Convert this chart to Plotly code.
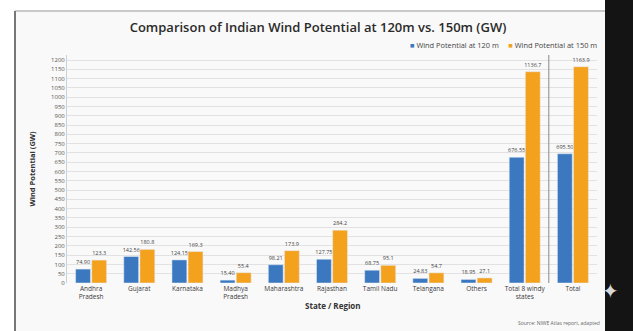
import plotly.graph_objects as go

# Wind potential by state / region (GW)
categories = [
    "Andhra<br>Pradesh", "Gujarat", "Karnataka", "Madhya<br>Pradesh",
    "Maharashtra", "Rajasthan", "Tamil Nadu", "Telangana", "Others",
    "Total 8 windy<br>states", "Total",
]
potential_120m = [74.90, 142.56, 124.15, 15.40, 98.21, 127.75, 68.75, 24.83, 18.95, 676.55, 695.50]
potential_150m = [123.3, 180.8, 169.3, 55.4, 173.9, 284.2, 95.1, 54.7, 27.1, 1136.7, 1163.9]
series_names = ["Wind Potential at 120 m", "Wind Potential at 150 m"]
y_ticks = list(range(0, 1201, 50))

W, H = 633, 331
ML, MR, MT, MB = 67, 36, 55, 48
PW, PH = W - ML - MR, H - MT - MB


def px_x(x):
    return (x - ML) / PW


def px_y(y):
    return (H - MB - y) / PH


BLUE = "#3b78c0"
ORANGE = "#f4a11d"
FONT = "Open Sans"

fig = go.Figure()
for name, values, color, fmt in [
    (series_names[0], potential_120m, BLUE, "%{y:.2f}"),
    (series_names[1], potential_150m, ORANGE, "%{y:.1f}"),
]:
    fig.add_trace(go.Bar(
        name=name, x=categories, y=values, marker_color=color,
        texttemplate=fmt, textposition="outside",
        constraintext="none", cliponaxis=False, showlegend=False,
        textfont=dict(size=5.5, color="#444", family=FONT),
    ))

shapes = [
    # slide frame background
    dict(type="rect", xref="paper", yref="paper", layer="below",
         x0=px_x(15), x1=px_x(605), y0=px_y(335), y1=px_y(11),
         fillcolor="#f9f9f9", line=dict(width=0)),
    # frame edges
    dict(type="line", xref="paper", yref="paper",
         x0=px_x(15), x1=px_x(605), y0=px_y(11), y1=px_y(11),
         line=dict(color="#b8b8b8", width=1.5)),
    dict(type="line", xref="paper", yref="paper",
         x0=px_x(15), x1=px_x(15), y0=px_y(335), y1=px_y(11),
         line=dict(color="#777", width=2)),
    # dark strip on the right
    dict(type="rect", xref="paper", yref="paper",
         x0=px_x(605), x1=px_x(640), y0=px_y(340), y1=px_y(0),
         fillcolor="#141414", line=dict(width=0)),
    # separator before the overall total
    dict(type="line", xref="x", yref="paper",
         x0=9.5, x1=9.5, y0=0, y1=1,
         line=dict(color="#888", width=1)),
]

legend_text = (
    f"<span style='color:{BLUE}'>■</span> {series_names[0]}"
    f"     <span style='color:{ORANGE}'>■</span> {series_names[1]}"
)

annotations = [
    dict(text=legend_text, xref="paper", yref="paper",
         x=px_x(599), y=px_y(45.5), xanchor="right", yanchor="middle",
         showarrow=False, font=dict(size=7.4, color="#444", family=FONT)),
    dict(text="<b>State / Region</b>", xref="paper", yref="paper",
         x=px_x(333), y=px_y(313), showarrow=False,
         font=dict(size=8, color="#333", family=FONT)),
    dict(text="Source: NIWE Atlas report, adapted", xref="paper", yref="paper",
         x=px_x(602), y=px_y(328), xanchor="right", showarrow=False,
         font=dict(size=5, color="#666", family=FONT)),
    dict(text="✦", xref="paper", yref="paper",
         x=px_x(621), y=px_y(305), showarrow=False,
         font=dict(size=20, color="#d8d8d8", family="DejaVu Sans")),
]

fig.update_layout(
    width=W, height=H,
    margin=dict(l=ML, r=MR, t=MT, b=MB),
    paper_bgcolor="white", plot_bgcolor="rgba(0,0,0,0)",
    barmode="group", bargap=0.33, bargroupgap=0.08,
    font=dict(family=FONT, color="#444"),
    showlegend=False,
    title=dict(text="Comparison of Indian Wind Potential at 120m vs. 150m (GW)",
               x=318 / W, xanchor="center", y=1 - 27 / H, yanchor="middle",
               font=dict(size=13, color="#2a2a2a", family=FONT, weight=600)),
    shapes=shapes,
    annotations=annotations,
    xaxis=dict(tickfont=dict(size=6.5, color="#3a3a3a", family=FONT),
               showline=False, ticks="", tickangle=0),
    yaxis=dict(title=dict(text="<b>Wind Potential (GW)</b>", standoff=14,
                          font=dict(size=7.5, color="#333", family=FONT)),
               range=[0, 1227], tickvals=y_ticks,
               tickfont=dict(size=6, color="#555", family=FONT),
               gridcolor="#e2e2e2", gridwidth=1, zeroline=False,
               showline=True, linecolor="#d0d0d0", linewidth=1),
)

fig.write_html("out.html")
